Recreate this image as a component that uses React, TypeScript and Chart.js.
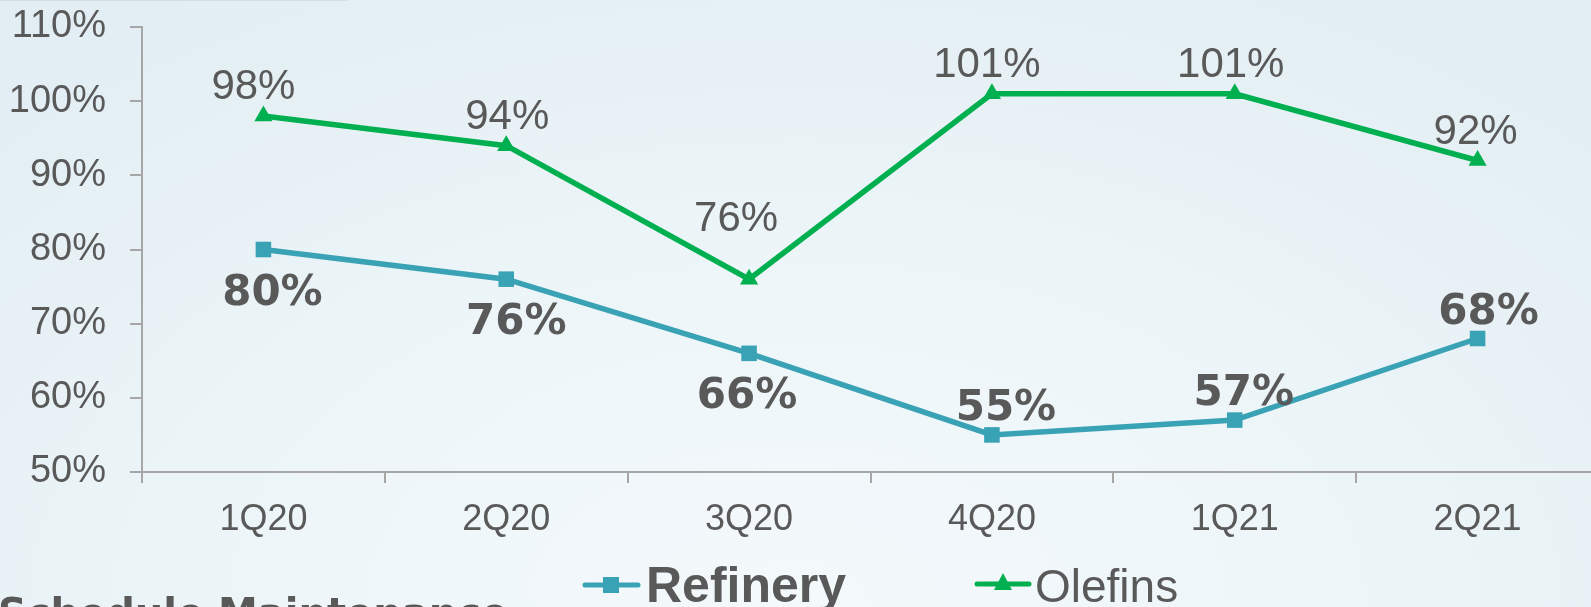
import { useEffect, useRef } from 'react';
import { Chart, registerables } from 'chart.js';

Chart.register(...registerables);

const categories = ['1Q20', '2Q20', '3Q20', '4Q20', '1Q21', '2Q21'];
const refineryValues = [80, 76, 66, 55, 57, 68];
const olefinsValues = [98, 94, 76, 101, 101, 92];
const yMin = 50;
const yMax = 110;
const yStep = 10;
const refineryLabelSide = ['below', 'below', 'below', 'above', 'above', 'above'];
const refineryLabelDx = [9, 10, -2, 14, 9, 11];
const olefinsLabelDx = [-10, 1, -13, -5, -4, -2];
const olefinsLabelDy = [-17, -17, -48, -17, -17, -17];
const legendNames = ['Refinery', 'Olefins'];
const footerText = 'Schedule Maintenance';

const TEAL = '#3AA2B5';
const GREEN = '#00B050';
const TEXT = '#595959';
const AXIS = '#A6A6A6';

const valueLabelPlugin = {
  id: 'valueLabels',
  afterDatasetsDraw(chart: any) {
    const ctx = chart.ctx;
    ctx.save();
    ctx.fillStyle = TEXT;
    ctx.textAlign = 'center';
    ctx.textBaseline = 'alphabetic';
    chart.data.datasets.forEach((ds: any, di: number) => {
      const meta = chart.getDatasetMeta(di);
      meta.data.forEach((pt: any, i: number) => {
        const v = ds.data[i];
        const text = v + '%';
        if (di === 0) {
          ctx.font = 'bold 42px "DejaVu Sans"';
          const side = refineryLabelSide[i];
          const y = side === 'below' ? pt.y + 55 : pt.y - 15;
          ctx.fillText(text, pt.x + refineryLabelDx[i], y);
        } else {
          ctx.font = '42px "Liberation Sans"';
          ctx.fillText(text, pt.x + olefinsLabelDx[i], pt.y + olefinsLabelDy[i]);
        }
      });
    });
    ctx.restore();
  },
};

const legendPlugin = {
  id: 'customLegend',
  afterDraw(chart: any) {
    const ctx = chart.ctx;
    ctx.save();
    // Refinery
    ctx.strokeStyle = TEAL;
    ctx.lineWidth = 5;
    ctx.lineCap = 'round';
    ctx.beginPath();
    ctx.moveTo(585, 585);
    ctx.lineTo(638, 585);
    ctx.stroke();
    ctx.fillStyle = TEAL;
    ctx.fillRect(603, 577, 16, 16);
    ctx.fillStyle = TEXT;
    ctx.textBaseline = 'alphabetic';
    ctx.textAlign = 'left';
    ctx.font = 'bold 50px "Liberation Sans"';
    ctx.fillText(legendNames[0], 646, 602);
    // Olefins
    ctx.strokeStyle = GREEN;
    ctx.beginPath();
    ctx.moveTo(977, 584);
    ctx.lineTo(1029, 584);
    ctx.stroke();
    ctx.fillStyle = GREEN;
    ctx.beginPath();
    ctx.moveTo(1003, 573);
    ctx.lineTo(1012, 590);
    ctx.lineTo(994, 590);
    ctx.closePath();
    ctx.fill();
    ctx.fillStyle = TEXT;
    ctx.font = '46px "Liberation Sans"';
    ctx.fillText(legendNames[1], 1035, 602);
    // footer heading (cut off)
    ctx.font = 'bold 40px "DejaVu Sans"';
    ctx.fillText(footerText, -2, 627);
    ctx.restore();
  },
};

export default function App() {
  const ref = useRef<HTMLCanvasElement | null>(null);

  useEffect(() => {
    if (!ref.current) return;
    const chart = new Chart(ref.current, {
      type: 'line',
      data: {
        labels: categories,
        datasets: [
          {
            label: legendNames[0],
            data: refineryValues,
            borderColor: TEAL,
            backgroundColor: TEAL,
            borderWidth: 5.5,
            pointStyle: 'rect',
            pointRadius: 11,
            pointBorderWidth: 0,
            pointBackgroundColor: TEAL,
            tension: 0,
          },
          {
            label: legendNames[1],
            data: olefinsValues,
            borderColor: GREEN,
            backgroundColor: GREEN,
            borderWidth: 5.5,
            pointStyle: 'triangle',
            pointRadius: 10.5,
            pointBorderWidth: 0,
            pointBackgroundColor: GREEN,
            tension: 0,
          },
        ],
      },
      options: {
        responsive: false,
        animation: false,
        devicePixelRatio: 1,
        layout: { padding: { top: 27, right: 10, left: 0, bottom: 0 } },
        plugins: {
          legend: { display: false },
          tooltip: { enabled: false },
        },
        scales: {
          x: {
            type: 'category',
            offset: true,
            grid: {
              display: true,
              offset: true,
              drawOnChartArea: false,
              drawTicks: true,
              tickLength: 11,
              color: AXIS,
              lineWidth: 2,
            },
            border: { display: true, color: AXIS, width: 2 },
            ticks: {
              color: TEXT,
              font: { family: 'Liberation Sans', size: 36 },
              padding: 15,
              maxRotation: 0,
              autoSkip: false,
            },
            afterFit(scale: any) {
              scale.height = 135;
              scale.paddingLeft = 0;
              scale.paddingRight = 0;
            },
          },
          y: {
            min: yMin,
            max: yMax,
            grid: {
              display: true,
              drawOnChartArea: false,
              drawTicks: true,
              tickLength: 12,
              color: AXIS,
              lineWidth: 2,
            },
            border: { display: true, color: AXIS, width: 2 },
            ticks: {
              stepSize: yStep,
              color: TEXT,
              font: { family: 'Liberation Sans', size: 38 },
              padding: 24,
              callback: (v: any) => v + '%',
            },
            afterFit(scale: any) {
              scale.width = 142;
              scale.paddingTop = 0;
              scale.paddingBottom = 0;
            },
          },
        },
      },
      plugins: [valueLabelPlugin, legendPlugin],
    });
    return () => chart.destroy();
  }, []);

  return (
    <div
      style={{
        position: 'fixed',
        left: 0,
        top: 0,
        width: 1591,
        height: 607,
        overflow: 'hidden',
        background:
          'radial-gradient(ellipse 75% 120% at 50% 100%, #f4f9fb 0%, #eef6f9 40%, #e7f1f5 75%, #e2eef4 100%)',
      }}
    >
      <div
        style={{
          position: 'absolute',
          left: 0,
          top: 0,
          width: 347,
          height: 1,
          background: '#d3dde2',
        }}
      />
      <canvas
        ref={ref}
        width={1610}
        height={607}
        style={{ position: 'absolute', left: 0, top: 0, width: 1610, height: 607, display: 'block' }}
      />
    </div>
  );
}
